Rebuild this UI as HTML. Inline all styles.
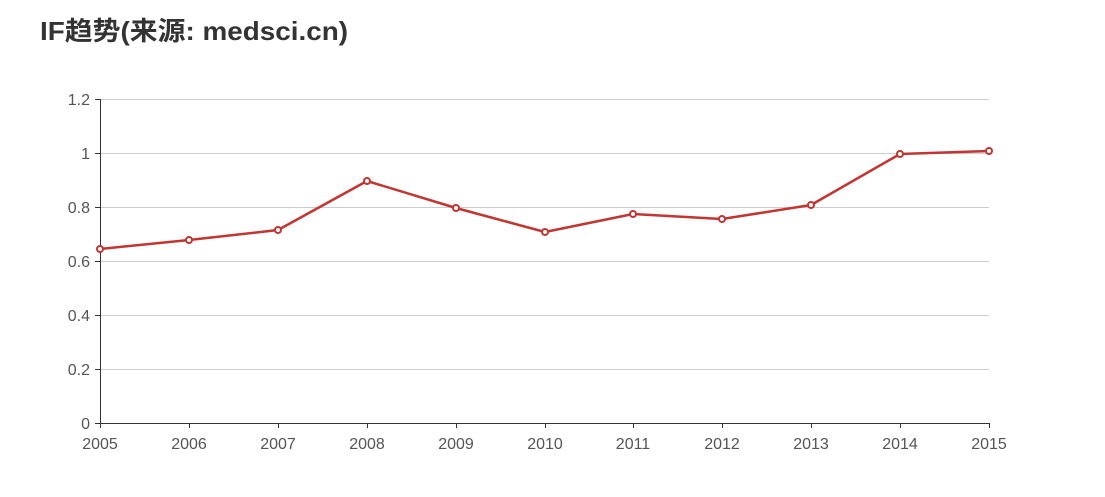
<!DOCTYPE html>
<html><head><meta charset="utf-8"><style>
body{margin:0;background:#fff;width:1105px;height:492px;overflow:hidden}
</style></head><body>
<svg width="1105" height="492" xmlns="http://www.w3.org/2000/svg" font-family="'Liberation Sans','Noto Sans CJK SC',sans-serif">
<text x="40" y="40" font-size="26" font-weight="bold" fill="#333" textLength="308" lengthAdjust="spacingAndGlyphs">IF趋势(来源: medsci.cn)</text>
<g stroke="#ccc" stroke-width="1">
<line x1="100" x2="989" y1="99.5" y2="99.5"/>
<line x1="100" x2="989" y1="153.5" y2="153.5"/>
<line x1="100" x2="989" y1="207.5" y2="207.5"/>
<line x1="100" x2="989" y1="261.5" y2="261.5"/>
<line x1="100" x2="989" y1="315.5" y2="315.5"/>
<line x1="100" x2="989" y1="369.5" y2="369.5"/>
</g>
<g stroke="#333" stroke-width="1">
<line x1="100.5" x2="100.5" y1="99" y2="423"/>
<line x1="100" x2="989" y1="423.5" y2="423.5"/>
<line x1="95" x2="100" y1="99.5" y2="99.5"/><line x1="95" x2="100" y1="153.5" y2="153.5"/>
<line x1="95" x2="100" y1="207.5" y2="207.5"/><line x1="95" x2="100" y1="261.5" y2="261.5"/>
<line x1="95" x2="100" y1="315.5" y2="315.5"/><line x1="95" x2="100" y1="369.5" y2="369.5"/>
<line x1="95" x2="100" y1="423.5" y2="423.5"/>
<line x1="100.5" x2="100.5" y1="423" y2="428"/><line x1="189.5" x2="189.5" y1="423" y2="428"/>
<line x1="278.5" x2="278.5" y1="423" y2="428"/><line x1="367.5" x2="367.5" y1="423" y2="428"/>
<line x1="456.5" x2="456.5" y1="423" y2="428"/><line x1="545.5" x2="545.5" y1="423" y2="428"/>
<line x1="633.5" x2="633.5" y1="423" y2="428"/><line x1="722.5" x2="722.5" y1="423" y2="428"/>
<line x1="811.5" x2="811.5" y1="423" y2="428"/><line x1="900.5" x2="900.5" y1="423" y2="428"/>
<line x1="989.5" x2="989.5" y1="423" y2="428"/>
</g>
<g font-size="16" fill="#555" text-anchor="end">
<text x="90" y="105">1.2</text><text x="90" y="159">1</text><text x="90" y="213">0.8</text>
<text x="90" y="267">0.6</text><text x="90" y="321">0.4</text><text x="90" y="375">0.2</text><text x="90" y="429">0</text>
</g>
<g font-size="16" fill="#555" text-anchor="middle">
<text x="100" y="449">2005</text><text x="189" y="449">2006</text><text x="278" y="449">2007</text>
<text x="367" y="449">2008</text><text x="456" y="449">2009</text><text x="545" y="449">2010</text>
<text x="633" y="449">2011</text><text x="722" y="449">2012</text><text x="811" y="449">2013</text>
<text x="900" y="449">2014</text><text x="989" y="449">2015</text>
</g>
<polyline fill="none" stroke="#c23531" stroke-width="2.5" stroke-linejoin="round" points="100,249 189,240 278,230 367,181 456,208 545,232 633,214 722,219 811,205 900,154 989,151"/>
<g fill="#fff" stroke="#c23531" stroke-width="2">
<circle cx="100" cy="249" r="3"/><circle cx="189" cy="240" r="3"/><circle cx="278" cy="230" r="3"/>
<circle cx="367" cy="181" r="3"/><circle cx="456" cy="208" r="3"/><circle cx="545" cy="232" r="3"/>
<circle cx="633" cy="214" r="3"/><circle cx="722" cy="219" r="3"/><circle cx="811" cy="205" r="3"/>
<circle cx="900" cy="154" r="3"/><circle cx="989" cy="151" r="3"/>
</g>
</svg>
</body></html>
